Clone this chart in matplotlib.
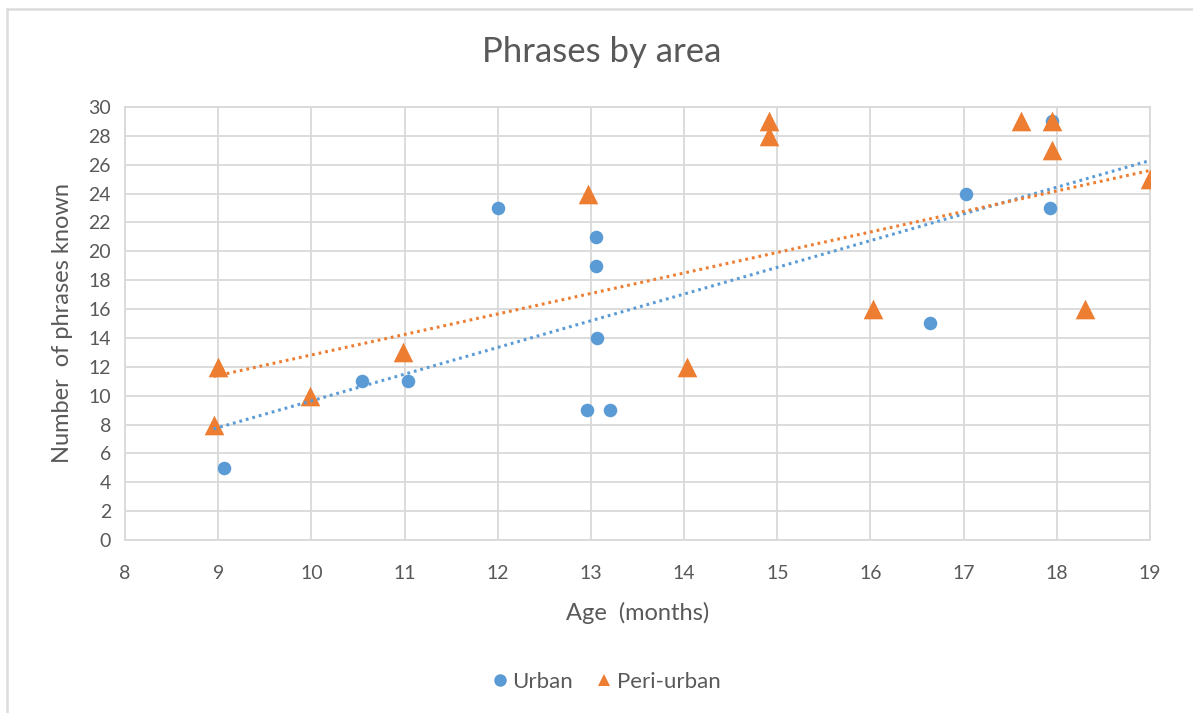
import matplotlib
matplotlib.use('Agg')
import matplotlib.pyplot as plt
import numpy as np
from matplotlib.lines import Line2D

plt.rcParams['font.family'] = ['Lato', 'DejaVu Sans']

# age (months) and phrases known, per area
urban_age = [9.06, 10.54, 11.04, 12.0, 13.05, 13.05, 13.07, 12.96, 13.2, 16.64, 17.02, 17.95, 17.93]
urban_phrases = [5, 11, 11, 23, 21, 19, 14, 9, 9, 15, 24, 29, 23]

peri_age = [9.0, 8.95, 9.98, 10.98, 12.97, 14.03, 14.91, 14.91, 16.03, 17.62, 17.95, 17.95, 18.3, 19.0]
peri_phrases = [12, 8, 10, 13, 24, 12, 29, 28, 16, 29, 29, 27, 16, 25]

# linear trendlines (slope, intercept)
trend_slope = [1.85, 1.42]
trend_intercept = [-8.86, -1.38]

blue = '#5B9BD5'
orange = '#ED7D31'
grid_c = '#D9D9D9'
text_c = '#595959'

fig = plt.figure(figsize=(11.93, 7.13), dpi=100)
# chart area frame: only top and left edges are visible
fig.add_artist(Line2D([0.0055, 1.0], [0.9875, 0.9875], transform=fig.transFigure,
                      color='#DCDCDC', linewidth=1.8))
fig.add_artist(Line2D([0.0055, 0.0055], [0.0, 0.9875], transform=fig.transFigure,
                      color='#DCDCDC', linewidth=1.8))

ax = fig.add_axes([0.1048, 0.2426, 0.8592, 0.6074])

ax.scatter(urban_age, urban_phrases, s=95, marker='o', color=blue, zorder=3, linewidths=0)
ax.scatter(peri_age, peri_phrases, s=200, marker='^', color=orange, zorder=4, linewidths=0)

all_age = np.array(urban_age + peri_age)
xs = np.array([all_age.min(), all_age.max()])
for m, b, c in zip(trend_slope, trend_intercept, [blue, orange]):
    ax.plot(xs, m * xs + b, color=c, linewidth=2.2, linestyle=(0, (0.9, 1.3)), zorder=5)

ax.set_xlim(8, 19)
ax.set_ylim(0, 30)
ax.set_xticks(np.arange(8, 20, 1))
ax.set_yticks(np.arange(0, 31, 2))
ax.grid(True, color=grid_c, linewidth=1.3, zorder=0)
ax.set_axisbelow(True)
for s in ax.spines.values():
    s.set_color(grid_c)
    s.set_linewidth(1.3)
ax.tick_params(axis='x', length=0, labelsize=14, labelcolor=text_c, pad=18)
ax.tick_params(axis='y', length=0, labelsize=14, labelcolor=text_c, pad=10)

fig.text(0.504, 0.927, 'Phrases by area', fontsize=25, color=text_c, ha='center', va='center')
ax.set_xlabel('Age  (months)', fontsize=17, color=text_c, labelpad=14)
ax.set_ylabel('Number  of phrases known', fontsize=17, color=text_c, labelpad=11)

handles = [Line2D([], [], linestyle='none', marker='o', markersize=9, color=blue,
                  markeredgewidth=0),
           Line2D([], [], linestyle='none', marker='^', markersize=9, color=orange,
                  markeredgewidth=0)]
leg = fig.legend(handles, ['Urban', 'Peri-urban'], loc='center', bbox_to_anchor=(0.507, 0.044),
                 ncol=2, frameon=False, fontsize=16, handletextpad=0.05, columnspacing=0.9,
                 handlelength=1.0)
for t in leg.get_texts():
    t.set_color(text_c)

fig.savefig('out.png', dpi=100)
